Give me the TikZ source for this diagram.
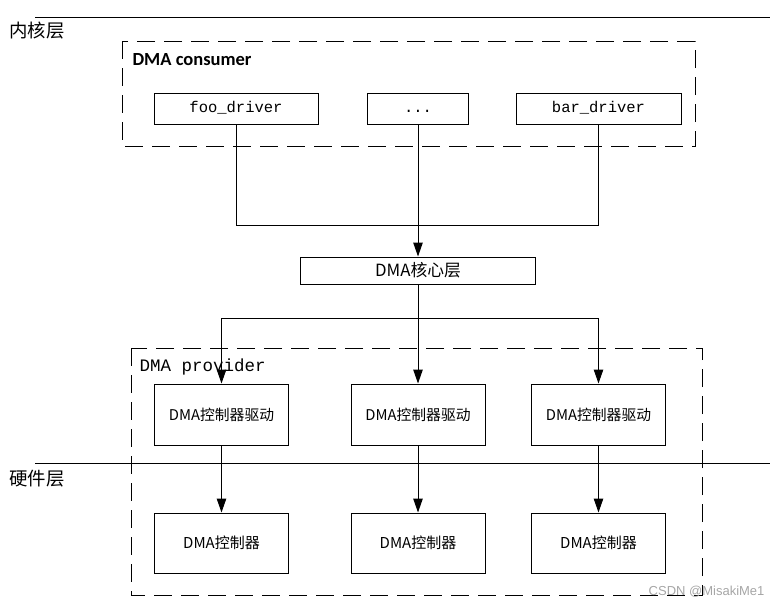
\documentclass[tikz,border=0pt]{standalone}
\usepackage{fontspec}
\usepackage{tikz}
\usetikzlibrary{arrows.meta}
\newfontfamily\cjk{Noto Sans CJK SC}
\newfontfamily\titlefont{Carlito}
\newfontfamily\codefont{Liberation Mono}
\newfontfamily\markfont{Liberation Sans}

\begin{document}
\begin{tikzpicture}[x=1pt,y=-1pt,
  box/.style={draw, line width=1pt, inner sep=0pt},
  codebox/.style={box, minimum height=31, text height=11pt, text depth=3pt,
    font=\codefont\fontsize{15.5}{15.5}\selectfont},
  group/.style={draw, line width=1pt, dash pattern=on 18pt off 9pt},
  arr/.style={line width=1pt, -{Triangle[length=14pt,width=9.5pt]}},
  link/.style={line width=1pt}]
\useasboundingbox (0,0) rectangle (779,606);

% layers
\draw [link] (35,17.5) -- (770,17.5);
\draw [link] (35,463) -- (770,463);
\node [anchor=west, font=\cjk\fontsize{18.4}{18.4}\selectfont] (kernel) at (6,31) {内核层};
\node [anchor=west, font=\cjk\fontsize{18.4}{18.4}\selectfont] (hardware) at (6,479) {硬件层};

% consumer and provider groups
\draw [group] (122,41) rectangle (695,146);
\node [anchor=west, font=\titlefont\bfseries\fontsize{18.5}{18.5}\selectfont] (consumer) at (129,60) {DMA consumer};
\draw [group] (131,348) rectangle (702,595);
\node [anchor=west, font=\codefont\fontsize{17.5}{17.5}\selectfont] (provider) at (136,367) {DMA provider};

% consumer drivers
\foreach \name/\x/\w/\txt in {foo/236/164/foo\_driver, bar/598.5/165/bar\_driver}
  \node [codebox, minimum width=\w] (\name) at (\x,108.5) {\txt};
\node [codebox, minimum width=101] (dots) at (418,108.5) {...};

\node [box, minimum width=235, minimum height=27, font=\cjk\fontsize{16.8}{16.8}\selectfont]
  (core) at (418,270.5) {DMA核心层};

% controller drivers and controllers
\foreach \x [count=\i] in {221.5,418,598.5}{
  \node [box, minimum width=134, minimum height=61, font=\cjk\fontsize{14.8}{14.8}\selectfont]
    (drv\i) at (\x,414.5) {DMA控制器驱动};
  \node [box, minimum width=134, minimum height=60, font=\cjk\fontsize{15}{15}\selectfont]
    (ctl\i) at (\x,543) {DMA控制器};
}

% connectors
\coordinate (join) at (418,225);
\draw [link] (foo.south) |- (join);
\draw [link] (bar.south) |- (join);
\draw [arr] (dots.south) -- (core.north);
\coordinate (split) at (418,318);
\draw [link] (core.south) -- (split);
\foreach \i in {1,2,3}{
  \draw [arr] (split) -| (drv\i.north);
  \draw [arr] (drv\i.south) -- (ctl\i.north);
}

\node [anchor=east, text=gray!70, font=\markfont\fontsize{13}{13}\selectfont] (mark) at (768,592) {CSDN @MisakiMe1};
\end{tikzpicture}
\end{document}
